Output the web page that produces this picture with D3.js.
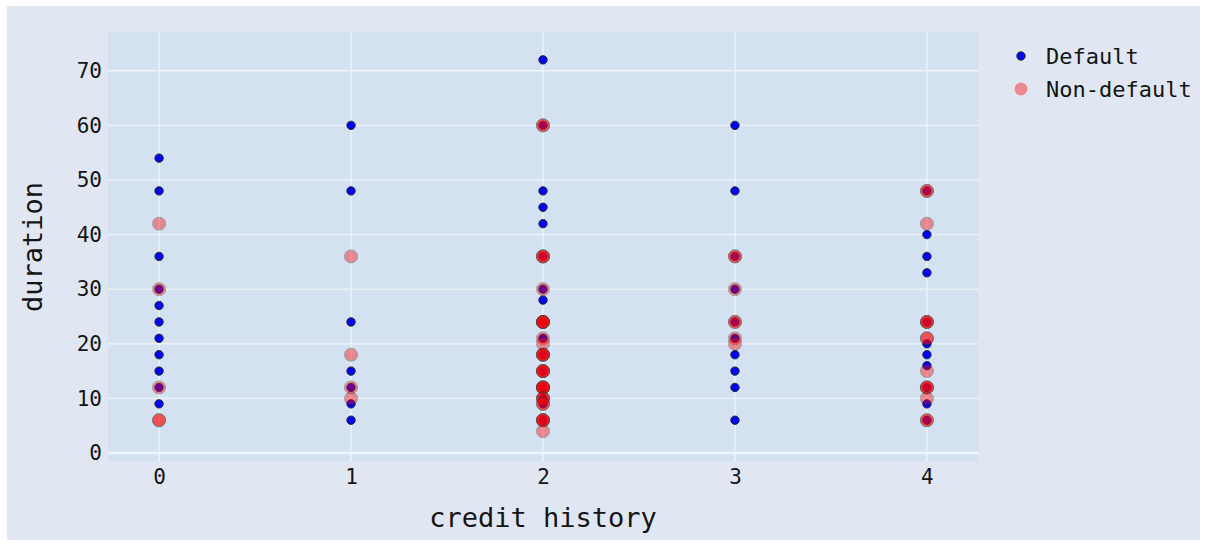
<!DOCTYPE html>
<html>
<head>
<meta charset="utf-8">
<script src="https://cdn.jsdelivr.net/npm/d3@7"></script>
<style>
  html, body { margin: 0; padding: 0; background: #ffffff; }
  svg { display: block; }
  text { font-family: "DejaVu Sans Mono", "Liberation Mono", monospace; fill: #141414; }
</style>
</head>
<body>
<svg id="chart" width="1206" height="544"></svg>
<script>
// ---- data ----
const xTicks = [0, 1, 2, 3, 4];
const yTicks = [0, 10, 20, 30, 40, 50, 60, 70];
const seriesNames = ["Default", "Non-default"];

// Default (blue) points: credit history, duration
const defaultX = [
  0,0,0,0,0,0,0,0,0,0,0,
  1,1,1,1,1,1,1,
  2,2,2,2,2,2,2,2, 2,2,2,2,2,2,2,2,
  3,3,3,3,3,3,3,3,3,3,
  4,4,4,4,4,4,4,4,4,4,4
];
const defaultY = [
  54,48,36,30,27,24,21,18,15,12,9,
  60,48,24,15,12,9,6,
  72,60,48,45,42,36,30,28, 24,21,18,15,12,10,9,6,
  60,48,36,30,24,21,18,15,12,6,
  48,40,36,33,24,20,18,16,12,9,6
];

// Non-default (red, translucent) points: credit history, duration
const nonDefaultX = [
  0,0,0,0,0,
  1,1,1,1,
  2,2,2,2,2,2, 2,2,2,2,2,2, 2,2,2,2,2,2, 2,2,2,2,2,2, 2,2,2,2,2,2, 2,2,2,2,2,2,
  3,3,3,3,3,3,3,
  4,4,4,4,4, 4,4,4,4,4, 4,4,4,4,4
];
const nonDefaultY = [
  42,30,12,6,6,
  36,18,12,10,
  60,60,36,36,36,30, 24,24,24,24,24,21, 20,18,18,18,18,15, 15,15,15,12,12,12, 12,12,10,10,10,9, 9,6,6,6,6,4,
  36,36,30,24,24,21,20,
  48,48,42,24,24, 24,21,21,15,12, 12,12,10,6,6
];

// ---- layout ----
const svg = d3.select("#chart");
const W = 1206, H = 544;
const plot = { left: 108, right: 978, top: 32, bottom: 462 };

svg.append("rect").attr("x", 0).attr("y", 0).attr("width", W).attr("height", H).attr("fill", "#ffffff");
svg.append("rect").attr("x", 7).attr("y", 6).attr("width", 1193).attr("height", 534).attr("fill", "#e0e7f3");

const x = d3.scaleLinear().domain([-0.266, 4.266]).range([plot.left, plot.right]);
const y = d3.scaleLinear().domain([-1.65, 77.1]).range([plot.bottom, plot.top]);

svg.append("rect")
  .attr("x", plot.left).attr("y", plot.top)
  .attr("width", plot.right - plot.left).attr("height", plot.bottom - plot.top)
  .attr("fill", "#d3e1f0");

// gridlines
const grid = svg.append("g");
grid.selectAll("line.gy").data(yTicks.filter(d => d !== 0)).join("line")
  .attr("x1", plot.left).attr("x2", plot.right)
  .attr("y1", d => y(d)).attr("y2", d => y(d))
  .attr("stroke", "#f0f4fa").attr("stroke-width", 1.3);
grid.selectAll("line.gx").data(xTicks).join("line")
  .attr("x1", d => x(d)).attr("x2", d => x(d))
  .attr("y1", plot.top).attr("y2", plot.bottom)
  .attr("stroke", "#f0f4fa").attr("stroke-width", 1.3);
// zero line
grid.append("line")
  .attr("x1", plot.left).attr("x2", plot.right)
  .attr("y1", y(0)).attr("y2", y(0))
  .attr("stroke", "#f0f4fa").attr("stroke-width", 2.5);

// axes (labels only)
const yAxis = d3.axisLeft(y).tickValues(yTicks).tickSize(0).tickPadding(4).tickFormat(d3.format("d"));
const gy = svg.append("g").attr("transform", `translate(${plot.left - 2},0)`).call(yAxis);
gy.select(".domain").remove();
gy.selectAll("text").style("font-size", "21px").style("font-family", '"DejaVu Sans Mono", monospace').attr("fill", "#141414");

const xAxis = d3.axisBottom(x).tickValues(xTicks).tickSize(0).tickPadding(7).tickFormat(d3.format("d"));
const gx = svg.append("g").attr("transform", `translate(0,${plot.bottom})`).call(xAxis);
gx.select(".domain").remove();
gx.selectAll("text").style("font-size", "21px").style("font-family", '"DejaVu Sans Mono", monospace').attr("fill", "#141414");

// axis titles
svg.append("text")
  .attr("x", (plot.left + plot.right) / 2).attr("y", 527)
  .attr("text-anchor", "middle").style("font-size", "27px")
  .text("credit history");
svg.append("text")
  .attr("transform", `translate(42,${(plot.top + plot.bottom) / 2}) rotate(-90)`)
  .attr("text-anchor", "middle").style("font-size", "27px")
  .text("duration");

// markers
const pts = svg.append("g");
const defaultData = defaultX.map((d, i) => ({ x: d, y: defaultY[i] }));
const nonDefaultData = nonDefaultX.map((d, i) => ({ x: d, y: nonDefaultY[i] }));

pts.append("g").selectAll("circle").data(defaultData).join("circle")
  .attr("cx", d => x(d.x)).attr("cy", d => y(d.y)).attr("r", 4.2)
  .attr("fill", "#0000ff").attr("stroke", "#2a2a2a").attr("stroke-width", 1);

pts.append("g").selectAll("circle").data(nonDefaultData).join("circle")
  .attr("cx", d => x(d.x)).attr("cy", d => y(d.y)).attr("r", 6.5)
  .attr("fill", "#ff0000").attr("stroke", "#333333").attr("stroke-width", 1)
  .attr("opacity", 0.4);

// legend
const leg = svg.append("g");
const legItems = [
  { name: seriesNames[0], r: 4.2, fill: "#0000ff", sw: 1, op: 1 },
  { name: seriesNames[1], r: 6.5, fill: "#ff0000", sw: 0, op: 0.4 }
];
legItems.forEach((it, i) => {
  const cy = 56 + i * 33;
  leg.append("circle").attr("cx", 1021).attr("cy", cy).attr("r", it.r)
    .attr("fill", it.fill).attr("stroke", "#2a2a2a").attr("stroke-width", it.sw).attr("opacity", it.op);
  leg.append("text").attr("x", 1046).attr("y", cy).attr("dy", "0.35em")
    .style("font-size", "22px").text(it.name);
});
</script>
</body>
</html>
